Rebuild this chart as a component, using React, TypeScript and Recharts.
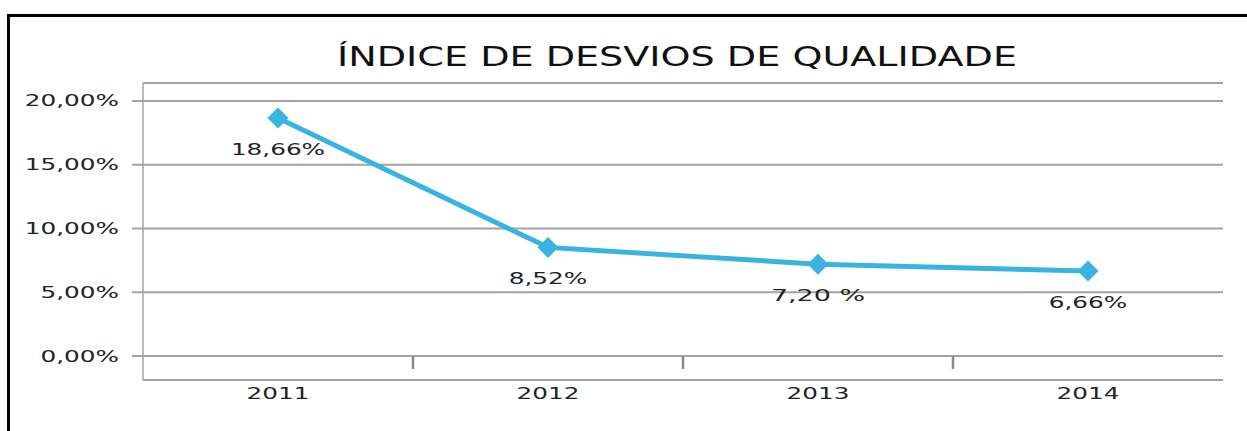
import React from 'react';
import { LineChart, Line, XAxis, YAxis, CartesianGrid, LabelList } from 'recharts';

const anos = ['2011', '2012', '2013', '2014'];
const desvios = [18.66, 8.52, 7.2, 6.66];
const rotulos = ['18,66%', '8,52%', '7,20 %', '6,66%'];
const yTicks = [0, 5, 10, 15, 20];
const yTickLabels = ['0,00%', '5,00%', '10,00%', '15,00%', '20,00%'];

const TITLE = 'ÍNDICE DE DESVIOS DE QUALIDADE';
const BLUE = '#38b3e2';
const GRID = '#a3a3a3';
const FONT = '"DejaVu Sans", sans-serif';
const CHAR_W = 15.7;

const data = anos.map((ano, i) => ({ ano, valor: desvios[i], rotulo: rotulos[i] }));

// stretched text to imitate the wide font of the original
const WideText = ({ x, y, text, anchor, size = 16 }: any) => (
  <text
    x={x}
    y={y}
    textAnchor={anchor}
    dominantBaseline="central"
    fontFamily={FONT}
    fontSize={size}
    fill="#222"
    textLength={text.length * CHAR_W}
    lengthAdjust="spacingAndGlyphs"
  >
    {text}
  </text>
);

const YTick = ({ x, y, payload }: any) => {
  const idx = yTicks.indexOf(payload.value);
  return <WideText x={x} y={y} text={yTickLabels[idx] ?? ''} anchor="end" />;
};

const XTick = ({ x, y, payload, index, width, visibleTicksCount }: any) => {
  const band = width / visibleTicksCount;
  const last = index === visibleTicksCount - 1;
  return (
    <g>
      {!last && (
        <line x1={x + band / 2} x2={x + band / 2} y1={y - 24} y2={y - 11} stroke="#8a8a8a" strokeWidth={2.5} />
      )}
      <WideText x={x} y={y + 13} text={payload.value} anchor="middle" />
    </g>
  );
};

const Diamond = ({ cx, cy }: any) => {
  if (cx == null || cy == null) return null;
  const r = 10.5;
  return <polygon points={`${cx},${cy - r} ${cx + r},${cy} ${cx},${cy + r} ${cx - r},${cy}`} fill={BLUE} />;
};

const ValueLabel = ({ x, y, index }: any) => (
  <WideText x={x} y={y + 31} text={rotulos[index]} anchor="middle" />
);

export default function App() {
  return (
    <div style={{ position: 'fixed', left: 0, top: 0, width: 1247, height: 431, background: '#fff', overflow: 'hidden' }}>
      <div
        style={{
          position: 'absolute',
          left: 7,
          top: 14,
          width: 1300,
          height: 500,
          borderTop: '3px solid #000',
          borderLeft: '3px solid #000',
        }}
      />
      <svg style={{ position: 'absolute', left: 0, top: 0 }} width={1247} height={100}>
        <text
          x={677}
          y={57}
          textAnchor="middle"
          dominantBaseline="central"
          fontFamily={FONT}
          fontSize={26}
          fill="#111"
          textLength={680}
          lengthAdjust="spacingAndGlyphs"
        >
          {TITLE}
        </text>
      </svg>
      <div style={{ position: 'absolute', left: 0, top: 0 }}>
        <LineChart width={1247} height={431} data={data} margin={{ top: 83, right: 24, bottom: 21, left: 0 }}>
          <CartesianGrid vertical={false} stroke={GRID} strokeWidth={2} />
          <XAxis
            dataKey="ano"
            scale="band"
            axisLine={false}
            tickLine={false}
            tickSize={0}
            tickMargin={0}
            height={30}
            interval={0}
            tick={<XTick />}
          />
          <YAxis
            type="number"
            domain={[-1.88, 21.41]}
            ticks={yTicks}
            width={143}
            axisLine={{ stroke: GRID, strokeWidth: 1.5 }}
            tickLine={{ stroke: GRID, strokeWidth: 2 }}
            tickSize={11}
            tickMargin={13}
            tick={<YTick />}
          />
          <Line
            type="linear"
            dataKey="valor"
            stroke={BLUE}
            strokeWidth={5}
            dot={<Diamond />}
            activeDot={false}
            isAnimationActive={false}
          >
            <LabelList dataKey="rotulo" content={<ValueLabel />} />
          </Line>
        </LineChart>
      </div>
    </div>
  );
}
